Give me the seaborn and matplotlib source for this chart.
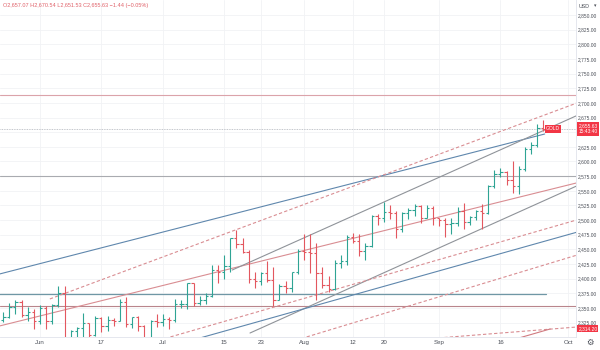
import numpy as np
import pandas as pd
import matplotlib
matplotlib.use("Agg")
import matplotlib.pyplot as plt
import matplotlib.transforms as mtrans
import seaborn as sns

# ---------------- data (daily OHLC, trading-day index 0 = May 24) ----------------
opens = [2329, 2334, 2351, 2361, 2338, 2343, 2327, 2350, 2327, 2355, 2375,
         2294, 2311, 2316, 2324, 2304, 2333, 2319, 2329, 2328, 2360,
         2322, 2334, 2319, 2298, 2327, 2326, 2332, 2330, 2356, 2356,
         2392, 2358, 2364, 2371, 2415, 2411, 2422, 2469, 2459, 2445,
         2400, 2396, 2409, 2398, 2364, 2387, 2384, 2411, 2447, 2446,
         2443, 2409, 2390, 2382, 2427, 2431, 2472, 2465, 2447, 2456,
         2507, 2504, 2514, 2512, 2484, 2512, 2518, 2524, 2504, 2521,
         2503, 2500, 2493, 2495, 2516, 2497, 2506, 2516, 2512, 2558,
         2578, 2582, 2569, 2559, 2587, 2622, 2628, 2657.07]
highs = [2344, 2358, 2364, 2364, 2351, 2349, 2355, 2353, 2357, 2388, 2387,
         2313, 2318, 2342, 2325, 2336, 2334, 2336, 2333, 2365, 2368,
         2335, 2336, 2321, 2330, 2339, 2340, 2334, 2365, 2363, 2392,
         2393, 2371, 2375, 2424, 2424, 2440, 2469, 2483, 2470, 2449,
         2412, 2412, 2431, 2420, 2391, 2396, 2412, 2451, 2477, 2477,
         2461, 2420, 2405, 2432, 2440, 2475, 2478, 2477, 2461, 2509,
         2510, 2531, 2526, 2516, 2514, 2521, 2528, 2526, 2525, 2524,
         2504, 2503, 2503, 2523, 2529, 2507, 2518, 2528, 2560, 2586,
         2589, 2584, 2600, 2593, 2625, 2634, 2664, 2670.54]
lows = [2326, 2333, 2340, 2334, 2327, 2314, 2323, 2314, 2323, 2352, 2286,
        2287, 2299, 2301, 2295, 2302, 2309, 2310, 2320, 2327, 2317,
        2316, 2310, 2294, 2295, 2318, 2319, 2315, 2326, 2350, 2349,
        2353, 2355, 2357, 2368, 2392, 2400, 2411, 2452, 2443, 2393,
        2384, 2390, 2394, 2353, 2363, 2376, 2377, 2408, 2432, 2410,
        2364, 2384, 2378, 2381, 2418, 2423, 2461, 2439, 2432, 2454,
        2491, 2497, 2502, 2470, 2479, 2502, 2507, 2495, 2503, 2491,
        2490, 2472, 2477, 2490, 2485, 2491, 2500, 2485, 2510, 2555,
        2574, 2560, 2546, 2545, 2584, 2613, 2624, 2651.53]
closes = [2334, 2351, 2361, 2338, 2343, 2327, 2350, 2327, 2355, 2375, 2294,
          2311, 2316, 2324, 2304, 2333, 2319, 2329, 2328, 2360, 2322,
          2334, 2319, 2298, 2327, 2326, 2332, 2330, 2356, 2356, 2392,
          2358, 2364, 2371, 2415, 2411, 2422, 2469, 2459, 2445, 2400,
          2396, 2409, 2398, 2364, 2387, 2384, 2411, 2447, 2446, 2443,
          2409, 2390, 2382, 2427, 2431, 2472, 2465, 2447, 2456, 2507,
          2504, 2514, 2512, 2484, 2512, 2518, 2524, 2504, 2521, 2503,
          2500, 2493, 2495, 2516, 2497, 2506, 2516, 2512, 2558, 2578,
          2582, 2569, 2559, 2587, 2622, 2628, 2657, 2655.63]

date_tick_pos = [6, 16, 26, 36, 42, 49, 57, 62, 71, 81, 92]
date_tick_labels = ["Jun", "17", "Jul", "15", "23", "Aug", "12", "20", "Sep", "16", "Oct"]

# 2,650 is hidden behind the last-price label in the reference
price_ticks = [2325, 2350, 2375, 2400, 2425, 2450, 2475, 2500, 2525, 2550, 2575,
               2600, 2625, 2675, 2700, 2725, 2750, 2775, 2800, 2825, 2850]
grid_prices = [2325, 2350, 2375, 2400, 2425, 2450, 2475, 2500, 2525, 2550, 2575,
               2600, 2625, 2650, 2675, 2700, 2725, 2750, 2775, 2800, 2825, 2850]

# drawn trend lines: (x0, price0, x1, price1)
trend_blue_upper = (-0.6, 2408.0, 88.2, 2646.9)
trend_red_mid = (-0.6, 2319.3, 94.0, 2565.0)
trend_red_dash_upper = (7.6, 2365.4, 94.0, 2702.0)
trend_gray_upper = (37.3, 2414.8, 94.0, 2681.0)
trend_gray_lower = (40.2, 2307.3, 94.0, 2561.0)
trend_blue_lower = (28.0, 2286.9, 94.0, 2481.0)
trend_red_dash_low1 = (25.5, 2295.4, 94.0, 2502.0)
trend_red_dash_low2 = (45.1, 2286.9, 94.0, 2442.0)
trend_bottom_dash = (56.5, 2286.9, 94.0, 2318.0)
trend_red_short = (80.1, 2287.0, 89.1, 2314.2)

h_pink = 2713.5
h_gray = 2575.3
h_teal = (2373.9, 88.4)
h_red = 2353.4
last_price = 2655.63
low_label = 2314.20

# ---------------- figure ----------------
sns.set_theme(style="white")
plt.rcParams['font.family'] = ['Liberation Sans', 'DejaVu Sans']

fig = plt.figure(figsize=(6, 3.5), dpi=100)
ax = fig.add_axes([0, 13 / 350, 576 / 600, 337 / 350])

n = len(opens)
df = pd.DataFrame({"x": np.arange(n), "o": opens, "h": highs, "l": lows, "c": closes})
df["up"] = df["c"] >= df["o"]
UP, DN = "#2fa494", "#e3575f"
cols = np.where(df["up"], UP, DN)

ax.set_xlim(-0.52, 93.3)
ax.set_ylim(2300.5, 2875.6)

# grid
for p in grid_prices:
    ax.axhline(p, color="#f1f2f5", lw=0.6, zorder=0)
for t in date_tick_pos:
    ax.axvline(t, color="#f1f2f5", lw=0.6, zorder=0)

# horizontal levels
ax.axhline(h_pink, color="#dba3aa", lw=0.8, zorder=1)
ax.axhline(h_gray, color="#a9abb0", lw=0.8, zorder=1)
ax.axhline(h_red, color="#b9858c", lw=0.8, zorder=1)
sns.lineplot(x=[-1, h_teal[1]], y=[h_teal[0], h_teal[0]], ax=ax, color="#6f97a5", lw=0.9, zorder=1)
ax.axhline(last_price, color="#b0b3ba", lw=0.6, ls=(0, (1, 1)), zorder=1)

def seg(line, color, ls="-", lw=0.8):
    x0, y0, x1, y1 = line
    sns.lineplot(x=[x0, x1], y=[y0, y1], ax=ax, color=color, lw=lw, linestyle=ls, zorder=2)

seg(trend_blue_upper, "#5f87ad")
seg(trend_red_mid, "#d98d92")
seg(trend_red_dash_upper, "#d98d92", ls=(0, (3, 2)))
seg(trend_gray_upper, "#8f9399")
seg(trend_gray_lower, "#8f9399")
seg(trend_blue_lower, "#5f87ad")
seg(trend_red_dash_low1, "#d98d92", ls=(0, (3, 2)))
seg(trend_red_dash_low2, "#d98d92", ls=(0, (3, 2)))
seg(trend_bottom_dash, "#d98d92", ls=(0, (3, 2)))
seg(trend_red_short, "#d07a80")

# OHLC bars
tick = 0.38
ax.vlines(df["x"], df["l"], df["h"], colors=cols, lw=0.8, zorder=3)
ax.hlines(df["o"], df["x"] - tick, df["x"], colors=cols, lw=0.8, zorder=3)
ax.hlines(df["c"], df["x"], df["x"] + tick, colors=cols, lw=0.8, zorder=3)

# axes styling
for s in ["top", "left"]:
    ax.spines[s].set_visible(False)
for s in ["right", "bottom"]:
    ax.spines[s].set_color("#e0e3eb")
    ax.spines[s].set_linewidth(0.6)
ax.yaxis.tick_right()
ax.set_yticks(price_ticks)
ax.set_yticklabels([f"{p:,.2f}" for p in price_ticks], fontsize=3.5, color="#4a4e57")
ax.set_xticks(date_tick_pos)
ax.set_xticklabels(date_tick_labels, fontsize=4.4, color="#4a4e57")
ax.tick_params(axis="y", length=0, pad=1.6)
ax.tick_params(axis="x", length=0, pad=2.5)
ax.set_xlabel("")
ax.set_ylabel("")
ax.grid(False)

blend = mtrans.blended_transform_factory(ax.transAxes, ax.transData)
ax.text(1.004, last_price, "2,655.63\n15:43:40", transform=blend, va="center", ha="left",
        fontsize=3.5, color="white", linespacing=1.1,
        bbox=dict(boxstyle="square,pad=0.3", fc="#f23645", ec="none"), zorder=6, clip_on=False)
ax.text(0.96, last_price, "GOLD", transform=blend, va="center", ha="center",
        fontsize=3.6, color="white",
        bbox=dict(boxstyle="square,pad=0.25", fc="#f23645", ec="none"), zorder=6, clip_on=False)
ax.text(1.004, low_label, f"{low_label:,.2f}", transform=blend, va="center", ha="left",
        fontsize=3.5, color="white",
        bbox=dict(boxstyle="square,pad=0.2", fc="#f23645", ec="none"), zorder=6, clip_on=False)

# header and corner texts
fig.text(3 / 600, 1 - 6 / 350,
         "O2,657.07 H2,670.54 L2,651.53 C2,655.63 \u22121.44 (\u22120.05%)",
         fontsize=4.0, color="#e0626a", va="center", ha="left")
fig.text(579 / 600, 1 - 6 / 350, "USD", fontsize=3.8, color="#4a4e57", va="center", ha="left")
fig.text(594 / 600, 1 - 6 / 350, "\u25BE", fontsize=3.5, color="#4a4e57", va="center", ha="left",
         family="DejaVu Sans")
fig.text(590 / 600, 1 - 342 / 350, "\u2699", fontsize=6, color="#4a4e57", va="center", ha="center",
         family="DejaVu Sans")

fig.savefig("out.png", dpi=100)
